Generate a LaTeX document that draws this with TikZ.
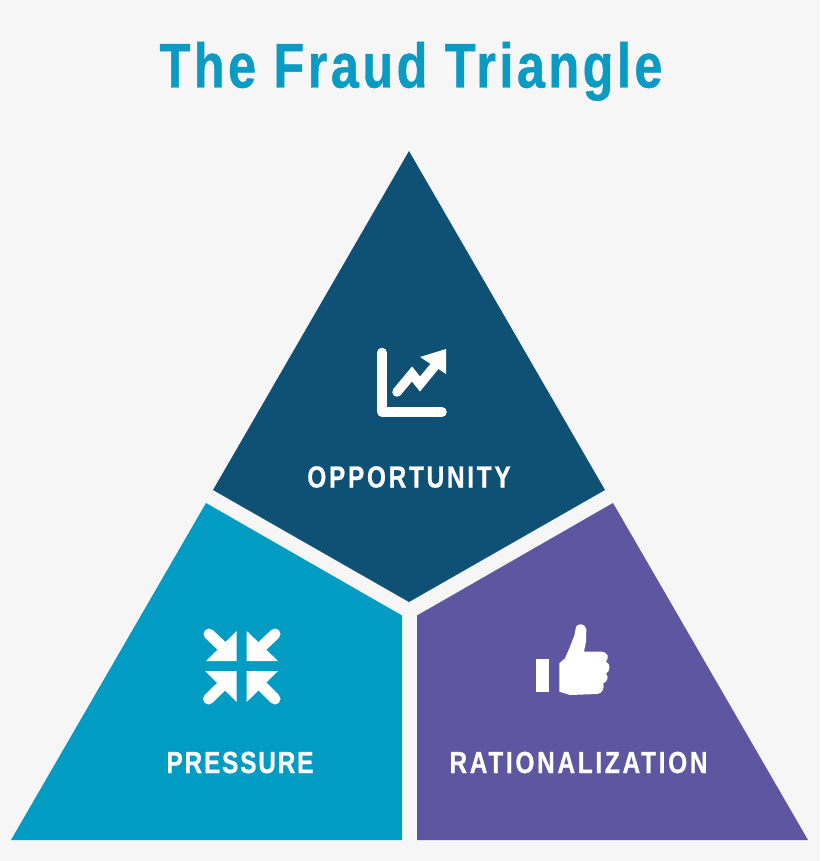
\documentclass[tikz,border=0pt]{standalone}
\usepackage{fontspec}
\setmainfont[FakeStretch=0.84]{Liberation Sans}
\newfontfamily\titlefont[FakeStretch=0.80,LetterSpace=5.5,BoldFeatures={FakeBold=0.7}]{Liberation Sans}
\newfontfamily\labelfont[FakeStretch=0.80,LetterSpace=8.9,BoldFeatures={FakeBold=0.7}]{Liberation Sans}
\newfontfamily\labelfontb[FakeStretch=0.80,LetterSpace=6.0,BoldFeatures={FakeBold=0.7}]{Liberation Sans}
\definecolor{bgc}{HTML}{F6F6F6}
\definecolor{darkc}{HTML}{0F5075}
\definecolor{tealc}{HTML}{009CC3}
\definecolor{purpc}{HTML}{5F56A2}
\definecolor{titlec}{HTML}{0A9BC4}
\tikzset{
  lab/.style={text=white,inner sep=0pt,anchor=base},
  iconline/.style={draw=white,line width=9.5pt,line cap=round,line join=round},
  iconfill/.style={fill=white,draw=none},
}
\begin{document}
\begin{tikzpicture}[x=1pt,y=-1pt]
\useasboundingbox (0,0) rectangle (820,861);
\fill[bgc] (0,0) rectangle (820,861);
\node[text=titlec,inner sep=0pt,anchor=base,font=\titlefont\bfseries\fontsize{63}{66}\selectfont] (title) at (411,87.5) {The Fraud Triangle};
\fill[darkc] (409,151) -- (605,490) -- (409,602) -- (213,490) -- cycle;
\fill[tealc] (206,503) -- (402,615.5) -- (402,840) -- (11,840) -- cycle;
\fill[purpc] (613,503) -- (417,615.5) -- (417,840) -- (808,840) -- cycle;
\node[lab,font=\labelfont\bfseries\fontsize{30.5}{32}\selectfont] (opp) at (409,487.5) {OPPORTUNITY};
\node[lab,font=\labelfontb\bfseries\fontsize{30.5}{32}\selectfont] (pre) at (240,773) {PRESSURE};
\node[lab,font=\labelfont\bfseries\fontsize{30.5}{32}\selectfont] (rat) at (578.5,773) {RATIONALIZATION};
% chart icon
\draw[iconline] (382,352.5) -- (382,412) -- (442,412);
\draw[draw=white,line width=9.5pt,line cap=round,line join=miter] (397,392) -- (412,374) -- (420,384) -- (434,367);
\fill[iconfill] (446,349) -- (420,357) -- (446,374) -- cycle;
% pressure icon
\fill[iconfill] (236.7,631) -- (236.7,661) -- (206,661) -- cycle;
\draw[iconline,line width=11pt] (209,634) -- (228,652);
\fill[iconfill] (246.7,631) -- (246.7,661) -- (278,661) -- cycle;
\draw[iconline,line width=11pt] (275,634) -- (256,652);
\fill[iconfill] (236.7,702) -- (236.7,671) -- (205,671) -- cycle;
\draw[iconline,line width=11pt] (208.5,699) -- (228,680);
\fill[iconfill] (246.7,702) -- (246.7,671) -- (278,671) -- cycle;
\draw[iconline,line width=11pt] (275,699) -- (256,680);
% thumb icon
\fill[iconfill] (535.7,659) rectangle (549.3,692);
\begin{scope}[shift={(520,615)},x=0.3333pt,y=-0.3333pt]
\fill[iconfill] (118,145) -- (135,130) -- (148,100) -- (163,62) -- (168,36)
  .. controls (173,24) and (194,24) .. (199,42) -- (198,80) -- (192,110) -- (246,110)
  .. controls (264,112) and (268,128) .. (258,140)
  .. controls (272,146) and (272,168) .. (258,176)
  .. controls (268,186) and (262,200) .. (250,205)
  .. controls (254,220) and (246,236) .. (232,237)
  -- (150,240) -- (118,230) -- cycle;
\end{scope}
\end{tikzpicture}
\end{document}
